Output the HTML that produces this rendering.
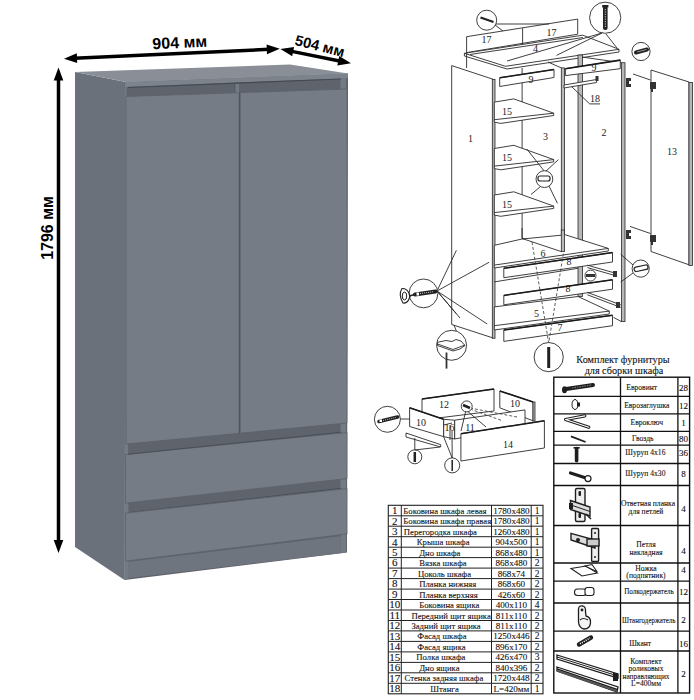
<!DOCTYPE html>
<html><head><meta charset="utf-8"><style>
html,body{margin:0;padding:0;background:#fff;width:694px;height:700px;overflow:hidden}
svg{position:absolute;left:0;top:0;display:block}
</style></head><body>
<svg width="694" height="700" viewBox="0 0 694 700">
<polygon points="75.0,72.0 126.0,82.0 124.5,580.0 75.0,547.0" fill="#6b717b" />
<polygon points="75.0,72.0 290.0,64.5 348.0,73.5 126.0,82.0" fill="#8a8e96" />
<polygon points="124.5,82.0 348.0,73.5 347.0,552.5 124.5,580.0" fill="#5e636c" />
<polygon points="124.5,87.0 126.5,87.0 128.8,578.0 124.5,580.0" fill="#737a84" />
<polygon points="125.0,82.0 348.0,73.5 348.0,78.2 125.0,87.0" fill="#7d838c" />
<polygon points="340.5,78.0 346.0,78.0 346.0,552.5 340.5,553.0" fill="#737a84" />
<polygon points="234.4,84.0 239.0,84.0 239.0,93.0 234.4,93.0" fill="#737a84" />
<polygon points="234.4,84.0 235.4,84.0 235.4,93.0 234.4,93.0" fill="#4e535c" />
<polygon points="126.0,96.5 239.1,92.7 239.1,433.3 126.0,444.0" fill="#757c86" stroke="#5c626b" stroke-width="0.8"/>
<polygon points="240.1,92.6 347.0,89.0 347.0,423.0 240.1,433.2" fill="#757c86" stroke="#5c626b" stroke-width="0.8"/>
<polygon points="239.1,92.7 240.1,92.6 240.1,433.2 239.1,433.3" fill="#4f545d" />
<polygon points="125.5,454.5 347.0,432.5 347.0,478.6 125.5,503.1" fill="#757c86" stroke="#5c626b" stroke-width="0.8"/>
<line x1="128" y1="454.2" x2="341" y2="432.2" stroke="#4a4f57" stroke-width="1"/>
<line x1="128" y1="512.7" x2="341" y2="488.3" stroke="#4a4f57" stroke-width="1"/>
<line x1="128" y1="87.5" x2="341" y2="79" stroke="#454a52" stroke-width="1.2"/>
<polygon points="125.5,513.1 347.0,488.6 347.0,534.0 125.5,561.1" fill="#757c86" stroke="#5c626b" stroke-width="0.8"/>
<polygon points="128.8,561.7 340.5,536.3 340.5,553.2 128.8,578.0" fill="#6f757f" />
<line x1="58.5" y1="77.8" x2="58.5" y2="542.6" stroke="#000" stroke-width="3.5"/><polygon points="58.5,67.4 63.3,80.4 53.7,80.4" fill="#000" /><polygon points="58.5,553.0 53.7,540.0 63.3,540.0" fill="#000" />
<line x1="74.4" y1="58.2" x2="269.4" y2="49.3" stroke="#000" stroke-width="3.5"/><polygon points="64.0,58.7 76.8,53.3 77.2,62.9" fill="#000" /><polygon points="279.8,48.8 267.0,54.2 266.6,44.6" fill="#000" />
<line x1="290.6" y1="51.1" x2="340.8" y2="61.2" stroke="#000" stroke-width="3.5"/><polygon points="280.4,49.0 294.1,46.9 292.2,56.3" fill="#000" /><polygon points="351.0,63.3 337.3,65.4 339.2,56.0" fill="#000" />
<text x="180" y="48" font-size="16" text-anchor="middle" transform="rotate(-2.6 180 48)" font-family="Liberation Sans, sans-serif" font-weight="bold" fill="#000">904 мм</text>
<text x="318.5" y="51" font-size="14.8" text-anchor="middle" transform="rotate(14.5 318.5 51)" font-family="Liberation Sans, sans-serif" font-weight="bold" fill="#000">504 мм</text>
<text x="53" y="228" font-size="16" text-anchor="middle" transform="rotate(-90 53 228)" font-family="Liberation Sans, sans-serif" font-weight="bold" fill="#000">1796 мм</text>
<rect x="388.3" y="505.3" width="154.7" height="188.5" fill="none" stroke="#222" stroke-width="1.1"/>
<line x1="401.3" y1="505.3" x2="401.3" y2="693.8" stroke="#222" stroke-width="1.0"/>
<line x1="491.5" y1="505.3" x2="491.5" y2="693.8" stroke="#222" stroke-width="1.0"/>
<line x1="531.2" y1="505.3" x2="531.2" y2="693.8" stroke="#222" stroke-width="1.0"/>
<line x1="388.3" y1="515.8" x2="543.0" y2="515.8" stroke="#222" stroke-width="1.0"/>
<line x1="388.3" y1="526.2" x2="543.0" y2="526.2" stroke="#222" stroke-width="1.0"/>
<line x1="388.3" y1="536.7" x2="543.0" y2="536.7" stroke="#222" stroke-width="1.0"/>
<line x1="388.3" y1="547.2" x2="543.0" y2="547.2" stroke="#222" stroke-width="1.0"/>
<line x1="388.3" y1="557.6" x2="543.0" y2="557.6" stroke="#222" stroke-width="1.0"/>
<line x1="388.3" y1="568.1" x2="543.0" y2="568.1" stroke="#222" stroke-width="1.0"/>
<line x1="388.3" y1="578.6" x2="543.0" y2="578.6" stroke="#222" stroke-width="1.0"/>
<line x1="388.3" y1="589.1" x2="543.0" y2="589.1" stroke="#222" stroke-width="1.0"/>
<line x1="388.3" y1="599.5" x2="543.0" y2="599.5" stroke="#222" stroke-width="1.0"/>
<line x1="388.3" y1="610.0" x2="543.0" y2="610.0" stroke="#222" stroke-width="1.0"/>
<line x1="388.3" y1="620.5" x2="543.0" y2="620.5" stroke="#222" stroke-width="1.0"/>
<line x1="388.3" y1="630.9" x2="543.0" y2="630.9" stroke="#222" stroke-width="1.0"/>
<line x1="388.3" y1="641.4" x2="543.0" y2="641.4" stroke="#222" stroke-width="1.0"/>
<line x1="388.3" y1="651.9" x2="543.0" y2="651.9" stroke="#222" stroke-width="1.0"/>
<line x1="388.3" y1="662.4" x2="543.0" y2="662.4" stroke="#222" stroke-width="1.0"/>
<line x1="388.3" y1="672.8" x2="543.0" y2="672.8" stroke="#222" stroke-width="1.0"/>
<line x1="388.3" y1="683.3" x2="543.0" y2="683.3" stroke="#222" stroke-width="1.0"/>
<text x="394.8" y="514.1" font-size="11" text-anchor="middle" font-family="Liberation Serif, serif" fill="#111" stroke="#111" stroke-width="0.1">1</text>
<text x="403.3" y="513.8" font-size="8.7" font-family="Liberation Serif, serif" fill="#111" stroke="#111" stroke-width="0.1">Боковина шкафа левая</text>
<text x="511.4" y="513.8" font-size="9.1" text-anchor="middle" font-family="Liberation Serif, serif" fill="#111" stroke="#111" stroke-width="0.1">1780x480</text>
<text x="537.1" y="513.8" font-size="9.5" text-anchor="middle" font-family="Liberation Serif, serif" fill="#111" stroke="#111" stroke-width="0.1">1</text>
<text x="394.8" y="524.6" font-size="11" text-anchor="middle" font-family="Liberation Serif, serif" fill="#111" stroke="#111" stroke-width="0.1">2</text>
<text x="403.3" y="524.3" font-size="8.7" font-family="Liberation Serif, serif" fill="#111" stroke="#111" stroke-width="0.1">Боковина шкафа правая</text>
<text x="511.4" y="524.3" font-size="9.1" text-anchor="middle" font-family="Liberation Serif, serif" fill="#111" stroke="#111" stroke-width="0.1">1780x480</text>
<text x="537.1" y="524.3" font-size="9.5" text-anchor="middle" font-family="Liberation Serif, serif" fill="#111" stroke="#111" stroke-width="0.1">1</text>
<text x="394.8" y="535.0" font-size="11" text-anchor="middle" font-family="Liberation Serif, serif" fill="#111" stroke="#111" stroke-width="0.1">3</text>
<text x="403.8" y="534.7" font-size="8.7" font-family="Liberation Serif, serif" fill="#111" stroke="#111" stroke-width="0.1">Перегородка шкафа</text>
<text x="511.4" y="534.7" font-size="9.1" text-anchor="middle" font-family="Liberation Serif, serif" fill="#111" stroke="#111" stroke-width="0.1">1260x480</text>
<text x="537.1" y="534.7" font-size="9.5" text-anchor="middle" font-family="Liberation Serif, serif" fill="#111" stroke="#111" stroke-width="0.1">1</text>
<text x="394.8" y="545.5" font-size="11" text-anchor="middle" font-family="Liberation Serif, serif" fill="#111" stroke="#111" stroke-width="0.1">4</text>
<text x="416.8" y="545.2" font-size="8.7" font-family="Liberation Serif, serif" fill="#111" stroke="#111" stroke-width="0.1">Крыша шкафа</text>
<text x="511.4" y="545.2" font-size="9.1" text-anchor="middle" font-family="Liberation Serif, serif" fill="#111" stroke="#111" stroke-width="0.1">904x500</text>
<text x="537.1" y="545.2" font-size="9.5" text-anchor="middle" font-family="Liberation Serif, serif" fill="#111" stroke="#111" stroke-width="0.1">1</text>
<text x="394.8" y="556.0" font-size="11" text-anchor="middle" font-family="Liberation Serif, serif" fill="#111" stroke="#111" stroke-width="0.1">5</text>
<text x="419.2" y="555.7" font-size="8.7" font-family="Liberation Serif, serif" fill="#111" stroke="#111" stroke-width="0.1">Дно шкафа</text>
<text x="511.4" y="555.7" font-size="9.1" text-anchor="middle" font-family="Liberation Serif, serif" fill="#111" stroke="#111" stroke-width="0.1">868x480</text>
<text x="537.1" y="555.7" font-size="9.5" text-anchor="middle" font-family="Liberation Serif, serif" fill="#111" stroke="#111" stroke-width="0.1">1</text>
<text x="394.8" y="566.4" font-size="11" text-anchor="middle" font-family="Liberation Serif, serif" fill="#111" stroke="#111" stroke-width="0.1">6</text>
<text x="419.2" y="566.1" font-size="8.7" font-family="Liberation Serif, serif" fill="#111" stroke="#111" stroke-width="0.1">Вязка шкафа</text>
<text x="511.4" y="566.1" font-size="9.1" text-anchor="middle" font-family="Liberation Serif, serif" fill="#111" stroke="#111" stroke-width="0.1">868x480</text>
<text x="537.1" y="566.1" font-size="9.5" text-anchor="middle" font-family="Liberation Serif, serif" fill="#111" stroke="#111" stroke-width="0.1">2</text>
<text x="394.8" y="576.9" font-size="11" text-anchor="middle" font-family="Liberation Serif, serif" fill="#111" stroke="#111" stroke-width="0.1">7</text>
<text x="418.0" y="576.6" font-size="8.7" font-family="Liberation Serif, serif" fill="#111" stroke="#111" stroke-width="0.1">Цоколь шкафа</text>
<text x="511.4" y="576.6" font-size="9.1" text-anchor="middle" font-family="Liberation Serif, serif" fill="#111" stroke="#111" stroke-width="0.1">868x74</text>
<text x="537.1" y="576.6" font-size="9.5" text-anchor="middle" font-family="Liberation Serif, serif" fill="#111" stroke="#111" stroke-width="0.1">2</text>
<text x="394.8" y="587.4" font-size="11" text-anchor="middle" font-family="Liberation Serif, serif" fill="#111" stroke="#111" stroke-width="0.1">8</text>
<text x="419.2" y="587.1" font-size="8.7" font-family="Liberation Serif, serif" fill="#111" stroke="#111" stroke-width="0.1">Планка нижняя</text>
<text x="511.4" y="587.1" font-size="9.1" text-anchor="middle" font-family="Liberation Serif, serif" fill="#111" stroke="#111" stroke-width="0.1">868x60</text>
<text x="537.1" y="587.1" font-size="9.5" text-anchor="middle" font-family="Liberation Serif, serif" fill="#111" stroke="#111" stroke-width="0.1">2</text>
<text x="394.8" y="597.9" font-size="11" text-anchor="middle" font-family="Liberation Serif, serif" fill="#111" stroke="#111" stroke-width="0.1">9</text>
<text x="419.2" y="597.6" font-size="8.7" font-family="Liberation Serif, serif" fill="#111" stroke="#111" stroke-width="0.1">Планка верхняя</text>
<text x="511.4" y="597.6" font-size="9.1" text-anchor="middle" font-family="Liberation Serif, serif" fill="#111" stroke="#111" stroke-width="0.1">426x60</text>
<text x="537.1" y="597.6" font-size="9.5" text-anchor="middle" font-family="Liberation Serif, serif" fill="#111" stroke="#111" stroke-width="0.1">2</text>
<text x="394.8" y="608.3" font-size="11" text-anchor="middle" font-family="Liberation Serif, serif" fill="#111" stroke="#111" stroke-width="0.1">10</text>
<text x="419.2" y="608.0" font-size="8.7" font-family="Liberation Serif, serif" fill="#111" stroke="#111" stroke-width="0.1">Боковина ящика</text>
<text x="511.4" y="608.0" font-size="9.1" text-anchor="middle" font-family="Liberation Serif, serif" fill="#111" stroke="#111" stroke-width="0.1">400x110</text>
<text x="537.1" y="608.0" font-size="9.5" text-anchor="middle" font-family="Liberation Serif, serif" fill="#111" stroke="#111" stroke-width="0.1">4</text>
<text x="394.8" y="618.8" font-size="11" text-anchor="middle" font-family="Liberation Serif, serif" fill="#111" stroke="#111" stroke-width="0.1">11</text>
<text x="411.4" y="618.5" font-size="8.7" font-family="Liberation Serif, serif" fill="#111" stroke="#111" stroke-width="0.1">Передний щит ящика</text>
<text x="511.4" y="618.5" font-size="9.1" text-anchor="middle" font-family="Liberation Serif, serif" fill="#111" stroke="#111" stroke-width="0.1">811x110</text>
<text x="537.1" y="618.5" font-size="9.5" text-anchor="middle" font-family="Liberation Serif, serif" fill="#111" stroke="#111" stroke-width="0.1">2</text>
<text x="394.8" y="629.3" font-size="11" text-anchor="middle" font-family="Liberation Serif, serif" fill="#111" stroke="#111" stroke-width="0.1">12</text>
<text x="411.4" y="629.0" font-size="8.7" font-family="Liberation Serif, serif" fill="#111" stroke="#111" stroke-width="0.1">Задний щит ящика</text>
<text x="511.4" y="629.0" font-size="9.1" text-anchor="middle" font-family="Liberation Serif, serif" fill="#111" stroke="#111" stroke-width="0.1">811x110</text>
<text x="537.1" y="629.0" font-size="9.5" text-anchor="middle" font-family="Liberation Serif, serif" fill="#111" stroke="#111" stroke-width="0.1">2</text>
<text x="394.8" y="639.7" font-size="11" text-anchor="middle" font-family="Liberation Serif, serif" fill="#111" stroke="#111" stroke-width="0.1">13</text>
<text x="417.3" y="639.4" font-size="8.7" font-family="Liberation Serif, serif" fill="#111" stroke="#111" stroke-width="0.1">Фасад шкафа</text>
<text x="511.4" y="639.4" font-size="9.1" text-anchor="middle" font-family="Liberation Serif, serif" fill="#111" stroke="#111" stroke-width="0.1">1250x446</text>
<text x="537.1" y="639.4" font-size="9.5" text-anchor="middle" font-family="Liberation Serif, serif" fill="#111" stroke="#111" stroke-width="0.1">2</text>
<text x="394.8" y="650.2" font-size="11" text-anchor="middle" font-family="Liberation Serif, serif" fill="#111" stroke="#111" stroke-width="0.1">14</text>
<text x="417.3" y="649.9" font-size="8.7" font-family="Liberation Serif, serif" fill="#111" stroke="#111" stroke-width="0.1">Фасад ящика</text>
<text x="511.4" y="649.9" font-size="9.1" text-anchor="middle" font-family="Liberation Serif, serif" fill="#111" stroke="#111" stroke-width="0.1">896x170</text>
<text x="537.1" y="649.9" font-size="9.5" text-anchor="middle" font-family="Liberation Serif, serif" fill="#111" stroke="#111" stroke-width="0.1">2</text>
<text x="394.8" y="660.7" font-size="11" text-anchor="middle" font-family="Liberation Serif, serif" fill="#111" stroke="#111" stroke-width="0.1">15</text>
<text x="416.3" y="660.4" font-size="8.7" font-family="Liberation Serif, serif" fill="#111" stroke="#111" stroke-width="0.1">Полка шкафа</text>
<text x="511.4" y="660.4" font-size="9.1" text-anchor="middle" font-family="Liberation Serif, serif" fill="#111" stroke="#111" stroke-width="0.1">426x470</text>
<text x="537.1" y="660.4" font-size="9.5" text-anchor="middle" font-family="Liberation Serif, serif" fill="#111" stroke="#111" stroke-width="0.1">3</text>
<text x="394.8" y="671.1" font-size="11" text-anchor="middle" font-family="Liberation Serif, serif" fill="#111" stroke="#111" stroke-width="0.1">16</text>
<text x="419.2" y="670.9" font-size="8.7" font-family="Liberation Serif, serif" fill="#111" stroke="#111" stroke-width="0.1">Дно ящика</text>
<text x="511.4" y="670.9" font-size="9.1" text-anchor="middle" font-family="Liberation Serif, serif" fill="#111" stroke="#111" stroke-width="0.1">840x396</text>
<text x="537.1" y="670.9" font-size="9.5" text-anchor="middle" font-family="Liberation Serif, serif" fill="#111" stroke="#111" stroke-width="0.1">2</text>
<text x="394.8" y="681.6" font-size="11" text-anchor="middle" font-family="Liberation Serif, serif" fill="#111" stroke="#111" stroke-width="0.1">17</text>
<text x="404.5" y="681.3" font-size="8.7" font-family="Liberation Serif, serif" fill="#111" stroke="#111" stroke-width="0.1">Стенка задняя шкафа</text>
<text x="511.4" y="681.3" font-size="9.1" text-anchor="middle" font-family="Liberation Serif, serif" fill="#111" stroke="#111" stroke-width="0.1">1720x448</text>
<text x="537.1" y="681.3" font-size="9.5" text-anchor="middle" font-family="Liberation Serif, serif" fill="#111" stroke="#111" stroke-width="0.1">2</text>
<text x="394.8" y="692.1" font-size="11" text-anchor="middle" font-family="Liberation Serif, serif" fill="#111" stroke="#111" stroke-width="0.1">18</text>
<text x="430.2" y="691.8" font-size="8.7" font-family="Liberation Serif, serif" fill="#111" stroke="#111" stroke-width="0.1">Штанга</text>
<text x="511.4" y="691.8" font-size="9.1" text-anchor="middle" font-family="Liberation Serif, serif" fill="#111" stroke="#111" stroke-width="0.1">L=420мм</text>
<text x="537.1" y="691.8" font-size="9.5" text-anchor="middle" font-family="Liberation Serif, serif" fill="#111" stroke="#111" stroke-width="0.1">1</text>
<rect x="553.8" y="377.2" width="135.8" height="315.8" fill="none" stroke="#111" stroke-width="1.4"/>
<line x1="620.5" y1="377.2" x2="620.5" y2="693.0" stroke="#111" stroke-width="1.3"/>
<line x1="677.9" y1="377.2" x2="677.9" y2="693.0" stroke="#111" stroke-width="1.3"/>
<line x1="553.8" y1="396.3" x2="689.6" y2="396.3" stroke="#111" stroke-width="1.3"/>
<line x1="553.8" y1="413.8" x2="689.6" y2="413.8" stroke="#111" stroke-width="1.3"/>
<line x1="553.8" y1="431.4" x2="689.6" y2="431.4" stroke="#111" stroke-width="1.3"/>
<line x1="553.8" y1="445.2" x2="689.6" y2="445.2" stroke="#111" stroke-width="1.3"/>
<line x1="553.8" y1="463.5" x2="689.6" y2="463.5" stroke="#111" stroke-width="1.3"/>
<line x1="553.8" y1="485.5" x2="689.6" y2="485.5" stroke="#111" stroke-width="1.3"/>
<line x1="553.8" y1="525.5" x2="689.6" y2="525.5" stroke="#111" stroke-width="1.3"/>
<line x1="553.8" y1="563.0" x2="689.6" y2="563.0" stroke="#111" stroke-width="1.3"/>
<line x1="553.8" y1="581.2" x2="689.6" y2="581.2" stroke="#111" stroke-width="1.3"/>
<line x1="553.8" y1="603.0" x2="689.6" y2="603.0" stroke="#111" stroke-width="1.3"/>
<line x1="553.8" y1="631.2" x2="689.6" y2="631.2" stroke="#111" stroke-width="1.3"/>
<line x1="553.8" y1="651.0" x2="689.6" y2="651.0" stroke="#111" stroke-width="1.3"/>
<text x="641.7" y="389.9" font-size="7.6" text-anchor="middle" font-family="Liberation Serif, serif" fill="#111" stroke="#111" stroke-width="0.1">Евровинт</text>
<text x="683.5" y="390.6" font-size="9" text-anchor="middle" font-family="Liberation Serif, serif" fill="#111" stroke="#111" stroke-width="0.1">28</text>
<text x="646.8" y="407.8" font-size="7.6" text-anchor="middle" font-family="Liberation Serif, serif" fill="#111" stroke="#111" stroke-width="0.1">Еврозаглушка</text>
<text x="683.5" y="408.5" font-size="9" text-anchor="middle" font-family="Liberation Serif, serif" fill="#111" stroke="#111" stroke-width="0.1">12</text>
<text x="646.8" y="424.9" font-size="7.6" text-anchor="middle" font-family="Liberation Serif, serif" fill="#111" stroke="#111" stroke-width="0.1">Евроключ</text>
<text x="683.5" y="425.6" font-size="9" text-anchor="middle" font-family="Liberation Serif, serif" fill="#111" stroke="#111" stroke-width="0.1">1</text>
<text x="642.7" y="441.2" font-size="7.6" text-anchor="middle" font-family="Liberation Serif, serif" fill="#111" stroke="#111" stroke-width="0.1">Гвоздь</text>
<text x="683.5" y="441.9" font-size="9" text-anchor="middle" font-family="Liberation Serif, serif" fill="#111" stroke="#111" stroke-width="0.1">80</text>
<text x="645.4" y="455.0" font-size="7.6" text-anchor="middle" font-family="Liberation Serif, serif" fill="#111" stroke="#111" stroke-width="0.1">Шуруп 4x16</text>
<text x="683.5" y="455.7" font-size="9" text-anchor="middle" font-family="Liberation Serif, serif" fill="#111" stroke="#111" stroke-width="0.1">36</text>
<text x="645.4" y="476.2" font-size="7.6" text-anchor="middle" font-family="Liberation Serif, serif" fill="#111" stroke="#111" stroke-width="0.1">Шуруп 4x30</text>
<text x="683.5" y="476.9" font-size="9" text-anchor="middle" font-family="Liberation Serif, serif" fill="#111" stroke="#111" stroke-width="0.1">8</text>
<text x="648.0" y="506.1" font-size="7.6" text-anchor="middle" textLength="54.0" lengthAdjust="spacingAndGlyphs" font-family="Liberation Serif, serif" fill="#111" stroke="#111" stroke-width="0.1">Ответная планка</text>
<text x="646.0" y="513.9" font-size="7.6" text-anchor="middle" font-family="Liberation Serif, serif" fill="#111" stroke="#111" stroke-width="0.1">для петлей</text>
<text x="683.5" y="511.5" font-size="9" text-anchor="middle" font-family="Liberation Serif, serif" fill="#111" stroke="#111" stroke-width="0.1">4</text>
<text x="646.0" y="547.0" font-size="7.6" text-anchor="middle" font-family="Liberation Serif, serif" fill="#111" stroke="#111" stroke-width="0.1">Петля</text>
<text x="646.0" y="554.8" font-size="7.6" text-anchor="middle" font-family="Liberation Serif, serif" fill="#111" stroke="#111" stroke-width="0.1">накладная</text>
<text x="683.5" y="554.0" font-size="9" text-anchor="middle" font-family="Liberation Serif, serif" fill="#111" stroke="#111" stroke-width="0.1">4</text>
<text x="646.0" y="570.5" font-size="7.6" text-anchor="middle" font-family="Liberation Serif, serif" fill="#111" stroke="#111" stroke-width="0.1">Ножка</text>
<text x="646.0" y="577.5" font-size="7.6" text-anchor="middle" font-family="Liberation Serif, serif" fill="#111" stroke="#111" stroke-width="0.1">(подпятник)</text>
<text x="683.5" y="573.2" font-size="9" text-anchor="middle" font-family="Liberation Serif, serif" fill="#111" stroke="#111" stroke-width="0.1">4</text>
<text x="649.0" y="594.1" font-size="7.6" text-anchor="middle" textLength="49.7" lengthAdjust="spacingAndGlyphs" font-family="Liberation Serif, serif" fill="#111" stroke="#111" stroke-width="0.1">Полкодержатель</text>
<text x="683.5" y="594.8" font-size="9" text-anchor="middle" font-family="Liberation Serif, serif" fill="#111" stroke="#111" stroke-width="0.1">12</text>
<text x="648.7" y="622.5" font-size="7.6" text-anchor="middle" textLength="53.4" lengthAdjust="spacingAndGlyphs" font-family="Liberation Serif, serif" fill="#111" stroke="#111" stroke-width="0.1">Штангодержатель</text>
<text x="683.5" y="623.2" font-size="9" text-anchor="middle" font-family="Liberation Serif, serif" fill="#111" stroke="#111" stroke-width="0.1">2</text>
<text x="640.2" y="646.0" font-size="7.6" text-anchor="middle" font-family="Liberation Serif, serif" fill="#111" stroke="#111" stroke-width="0.1">Шкант</text>
<text x="683.5" y="646.7" font-size="9" text-anchor="middle" font-family="Liberation Serif, serif" fill="#111" stroke="#111" stroke-width="0.1">16</text>
<text x="646.0" y="664.3" font-size="7.6" text-anchor="middle" font-family="Liberation Serif, serif" fill="#111" stroke="#111" stroke-width="0.1">Комплект</text>
<text x="646.0" y="671.2" font-size="7.6" text-anchor="middle" font-family="Liberation Serif, serif" fill="#111" stroke="#111" stroke-width="0.1">роликовых</text>
<text x="646.0" y="679.0" font-size="7.6" text-anchor="middle" textLength="47.0" lengthAdjust="spacingAndGlyphs" font-family="Liberation Serif, serif" fill="#111" stroke="#111" stroke-width="0.1">направляющих</text>
<text x="646.0" y="686.3" font-size="7.6" text-anchor="middle" font-family="Liberation Serif, serif" fill="#111" stroke="#111" stroke-width="0.1">L=400мм</text>
<text x="683.5" y="676.6" font-size="9" text-anchor="middle" font-family="Liberation Serif, serif" fill="#111" stroke="#111" stroke-width="0.1">2</text>
<text x="623" y="363" font-size="10.2" text-anchor="middle" font-family="Liberation Serif, serif" fill="#111" stroke="#111" stroke-width="0.1">Комплект фурнитуры</text>
<text x="624" y="374" font-size="10.2" text-anchor="middle" font-family="Liberation Serif, serif" fill="#111" stroke="#111" stroke-width="0.1">для сборки шкафа</text>
<line x1="566" y1="389" x2="593" y2="385" stroke="#1e1e1e" stroke-width="4" stroke-linecap="round"/>
<line x1="572" y1="388" x2="592" y2="385" stroke="#777" stroke-width="1.2" stroke-dasharray="1.5,1"/>
<ellipse cx="564.5" cy="389.8" rx="2.5" ry="3.5" fill="#1e1e1e"/>
<ellipse cx="575" cy="404.5" rx="3" ry="5" fill="#fff" stroke="#1e1e1e" stroke-width="1"/>
<rect x="577" y="402.5" width="3" height="4" fill="#1e1e1e"/>
<polyline points="584.8,415.9 565.5,419.5 588.8,427.3" fill="none" stroke="#1e1e1e" stroke-width="3.2" stroke-linejoin="round" stroke-linecap="round"/>
<polyline points="584.8,415.9 565.5,419.5 588.8,427.3" fill="none" stroke="#fff" stroke-width="1.2" stroke-linejoin="round" stroke-linecap="round"/>
<line x1="571" y1="436.3" x2="585.6" y2="442" stroke="#1e1e1e" stroke-width="1.8"/>
<line x1="576.6" y1="448.5" x2="576.6" y2="460.7" stroke="#1e1e1e" stroke-width="3.6" stroke-linecap="round"/>
<line x1="573.5" y1="447.8" x2="579.7" y2="447.8" stroke="#1e1e1e" stroke-width="1.6"/>
<line x1="570.5" y1="473" x2="586" y2="478" stroke="#1e1e1e" stroke-width="3.2" stroke-linecap="round"/>
<circle cx="588" cy="478.6" r="3" fill="#fff" stroke="#1e1e1e" stroke-width="1.2"/>
<rect x="575.5" y="488.5" width="9.5" height="33" rx="1.5" fill="#eee" stroke="#1e1e1e" stroke-width="1.4"/>
<polygon points="570.5,500.5 590,507 590,516 570.5,509.5" fill="#ddd" stroke="#1e1e1e" stroke-width="1.4"/><line x1="571" y1="505" x2="590" y2="511.5" stroke="#1e1e1e" stroke-width="1"/><rect x="569" y="503" width="4" height="6" fill="#1e1e1e"/><line x1="586" y1="514" x2="591" y2="519" stroke="#1e1e1e" stroke-width="1.5"/>
<rect x="578.5" y="491" width="2.5" height="5" rx="1" fill="#1e1e1e"/><rect x="578.5" y="513" width="2.5" height="5" rx="1" fill="#1e1e1e"/>
<rect x="570" y="504" width="3" height="4" fill="#1e1e1e"/>
<rect x="591.6" y="528.5" width="7" height="33" rx="1" fill="#eee" stroke="#1e1e1e" stroke-width="1.4"/><circle cx="595" cy="533" r="1" fill="#1e1e1e"/><circle cx="595" cy="557" r="1" fill="#1e1e1e"/>
<polygon points="571,533.4 595,540 595,548 571,540" fill="#ddd" stroke="#1e1e1e" stroke-width="1.4"/>
<rect x="587" y="539" width="12" height="7" fill="#ccc" stroke="#1e1e1e" stroke-width="1.4"/>
<circle cx="578" cy="540" r="2" fill="#1e1e1e"/>
<polygon points="571,568.5 586,566 597.3,573 582,576" fill="#fff" stroke="#1e1e1e" stroke-width="1.1"/>
<polygon points="585,566 592,564.5 597.3,572" fill="#fff" stroke="#1e1e1e" stroke-width="1.1"/>
<rect x="574.5" y="589" width="12" height="6.5" rx="3" fill="#fff" stroke="#1e1e1e" stroke-width="1.1"/>
<rect x="585" y="587.5" width="9" height="8" rx="2.5" fill="#fff" stroke="#1e1e1e" stroke-width="1.1"/>
<path d="M578.5,609 Q579,605 583,606 Q586,607 585.5,612 L586,616 Q591,617 590.5,623 Q590,629 584,629 Q579,628 578.5,622 Z" fill="#f4f4f4" stroke="#1e1e1e" stroke-width="1.3"/>
<path d="M580,620 Q583,617 588,620" fill="none" stroke="#1e1e1e" stroke-width="1.1"/>
<circle cx="582" cy="610" r="1.4" fill="#1e1e1e"/>
<line x1="579" y1="644.5" x2="591" y2="637.5" stroke="#1e1e1e" stroke-width="4.4" stroke-linecap="round"/>
<line x1="580" y1="643.8" x2="590" y2="638" stroke="#fff" stroke-width="1.6" stroke-dasharray="1,1.2"/>
<polygon points="557,655 618,674 618,678 557,659" fill="#fff" stroke="#1e1e1e" stroke-width="1.3"/>
<polygon points="557,667 618,687 617,692 557,671" fill="#fff" stroke="#1e1e1e" stroke-width="1.3"/>
<line x1="557" y1="669" x2="617" y2="689.5" stroke="#1e1e1e" stroke-width="1.5"/>
<rect x="613" y="673" width="5" height="8" fill="#1e1e1e"/><line x1="557" y1="657" x2="618" y2="676" stroke="#1e1e1e" stroke-width="1"/><line x1="557" y1="670.5" x2="617" y2="691" stroke="#555" stroke-width="2"/>
<polygon points="466.6,36.7 577.7,19.1 577.7,34.2 466.6,52.6" stroke="#2a2a2a" stroke-width="0.9" fill="none" stroke-linejoin="round"/>
<polyline points="522.6,28.2 522.6,44.7" stroke="#2a2a2a" stroke-width="0.9" fill="none" stroke-linejoin="round"/>
<text x="486.5" y="43.0" font-size="10.0" text-anchor="middle" font-family="Liberation Serif, serif" fill="#222">17</text>
<text x="551.5" y="35.5" font-size="10.0" text-anchor="middle" font-family="Liberation Serif, serif" fill="#222">17</text>
<polygon points="464.4,53.3 582.7,35.2 619.0,49.3 505.5,66.3" stroke="#2a2a2a" stroke-width="0.9" fill="#fff" stroke-linejoin="round"/>
<polyline points="464.4,53.3 464.4,56.0 507.0,69.0 619.0,52.0 619.0,49.3" stroke="#2a2a2a" stroke-width="0.9" fill="none" stroke-linejoin="round"/>
<polyline points="470.0,54.5 583.0,37.5" stroke="#2a2a2a" stroke-width="0.9" fill="none" stroke-linejoin="round"/>
<text x="535.5" y="52.0" font-size="10.0" text-anchor="middle" font-family="Liberation Serif, serif" fill="#222">4</text>
<polyline points="602.0,33.0 556.5,55.4" stroke="#2a2a2a" stroke-width="0.9" fill="none" stroke-linejoin="round"/>
<polyline points="602.0,33.0 507.0,61.0" stroke="#2a2a2a" stroke-width="0.9" fill="none" stroke-linejoin="round"/>
<polyline points="606.0,34.0 617.0,48.0" stroke="#2a2a2a" stroke-width="0.9" fill="none" stroke-linejoin="round"/>
<polyline points="466.6,52.6 466.6,68.0" stroke="#2a2a2a" stroke-width="0.9" fill="none" stroke-linejoin="round"/>
<polygon points="451.7,65.6 493.2,79.3 493.2,338.0 451.7,324.5" stroke="#2a2a2a" stroke-width="0.9" fill="#fff" stroke-linejoin="round"/>
<rect x="492.3" y="79.5" width="2.7" height="258.8" fill="#b8b8b8" stroke="#2a2a2a" stroke-width="0.8"/>
<text x="470.5" y="141.5" font-size="10.0" text-anchor="middle" font-family="Liberation Serif, serif" fill="#222">1</text>
<polyline points="522.1,68.0 522.1,238.0" stroke="#2a2a2a" stroke-width="0.9" fill="none" stroke-linejoin="round"/>
<polyline points="548.0,62.0 561.3,67.9" stroke="#2a2a2a" stroke-width="0.9" fill="none" stroke-linejoin="round"/>
<rect x="561.3" y="67.9" width="3.1" height="183.7" fill="#b8b8b8" stroke="#2a2a2a" stroke-width="0.8"/>
<text x="545.5" y="139.5" font-size="10.0" text-anchor="middle" font-family="Liberation Serif, serif" fill="#222">3</text>
<rect x="578.0" y="55.0" width="4.5" height="241.5" fill="#b8b8b8" stroke="#2a2a2a" stroke-width="0.8"/>
<polyline points="582.0,57.0 621.4,62.7" stroke="#2a2a2a" stroke-width="0.9" fill="none" stroke-linejoin="round"/>
<rect x="621.4" y="62.7" width="3.6" height="258.9" fill="#b8b8b8" stroke="#2a2a2a" stroke-width="0.8"/>
<polyline points="613.5,317.4 621.4,321.6" stroke="#2a2a2a" stroke-width="0.9" fill="none" stroke-linejoin="round"/>
<text x="604.0" y="135.5" font-size="10.0" text-anchor="middle" font-family="Liberation Serif, serif" fill="#222">2</text>
<polygon points="499.7,77.8 554.0,69.5 554.0,77.5 499.7,86.5" stroke="#2a2a2a" stroke-width="0.9" fill="#fff" stroke-linejoin="round"/>
<text x="531.0" y="83.0" font-size="10.0" text-anchor="middle" font-family="Liberation Serif, serif" fill="#222">9</text>
<polyline points="499.7,77.8 554.0,69.5" stroke="#1a1a1a" stroke-width="1.6" fill="none"/>
<polygon points="565.4,68.7 620.3,60.1 620.3,68.7 565.4,75.6" stroke="#2a2a2a" stroke-width="0.9" fill="#fff" stroke-linejoin="round"/>
<text x="594.0" y="71.0" font-size="10.0" text-anchor="middle" font-family="Liberation Serif, serif" fill="#222">9</text>
<polyline points="565.4,68.7 620.3,60.1" stroke="#1a1a1a" stroke-width="1.6" fill="none"/>
<polygon points="564.0,85.0 596.6,79.5 596.6,82.5 564.0,88.0" stroke="#2a2a2a" stroke-width="0.9" fill="#fff" stroke-linejoin="round"/>
<polyline points="571.7,86.7 589.7,103.9 600.0,103.9" stroke="#2a2a2a" stroke-width="0.9" fill="none" stroke-linejoin="round"/>
<text x="595.0" y="102.0" font-size="10.0" text-anchor="middle" font-family="Liberation Serif, serif" fill="#222">18</text>
<rect x="595.5" y="76" width="3" height="5" fill="#333"/>
<polygon points="494.3,102.1 513.8,98.9 553.7,113.2 553.7,115.5 500.8,123.4 494.3,122.2" stroke="#2a2a2a" stroke-width="0.9" fill="#fff" stroke-linejoin="round"/>
<polyline points="494.3,119.7 553.7,113.2" stroke="#2a2a2a" stroke-width="0.9" fill="none" stroke-linejoin="round"/>
<text x="507.0" y="115.0" font-size="10.0" text-anchor="middle" font-family="Liberation Serif, serif" fill="#222">15</text>
<polygon points="494.3,148.5 513.8,145.3 553.7,159.6 553.7,161.9 500.8,169.8 494.3,168.6" stroke="#2a2a2a" stroke-width="0.9" fill="#fff" stroke-linejoin="round"/>
<polyline points="494.3,166.1 553.7,159.6" stroke="#2a2a2a" stroke-width="0.9" fill="none" stroke-linejoin="round"/>
<text x="507.0" y="161.4" font-size="10.0" text-anchor="middle" font-family="Liberation Serif, serif" fill="#222">15</text>
<polygon points="494.3,195.0 513.8,191.8 553.7,206.1 553.7,208.4 500.8,216.3 494.3,215.1" stroke="#2a2a2a" stroke-width="0.9" fill="#fff" stroke-linejoin="round"/>
<polyline points="494.3,212.6 553.7,206.1" stroke="#2a2a2a" stroke-width="0.9" fill="none" stroke-linejoin="round"/>
<text x="507.0" y="207.9" font-size="10.0" text-anchor="middle" font-family="Liberation Serif, serif" fill="#222">15</text>
<polyline points="526.8,149.0 545.0,172.0" stroke="#2a2a2a" stroke-width="0.9" fill="none" stroke-linejoin="round"/>
<polyline points="545.0,172.0 558.4,159.6" stroke="#2a2a2a" stroke-width="0.9" fill="none" stroke-linejoin="round"/>
<polyline points="531.0,194.5 540.0,187.0" stroke="#2a2a2a" stroke-width="0.9" fill="none" stroke-linejoin="round"/>
<polyline points="549.0,186.0 557.4,203.3" stroke="#2a2a2a" stroke-width="0.9" fill="none" stroke-linejoin="round"/>
<circle cx="544.4" cy="179.1" r="8.4" stroke="#2a2a2a" stroke-width="0.9" fill="#fff" stroke-linejoin="round"/>
<rect x="538" y="176" width="12" height="5" rx="2" fill="#fff" stroke="#222" stroke-width="1.2"/>
<polyline points="522.0,238.0 561.3,251.6" stroke="#2a2a2a" stroke-width="0.9" fill="none" stroke-linejoin="round"/>
<polygon points="494.3,245.3 522.0,239.0 565.4,234.8 608.3,248.4 608.3,251.0 494.3,268.0" stroke="#2a2a2a" stroke-width="0.9" fill="#fff" stroke-linejoin="round"/>
<polyline points="494.3,265.1 608.3,248.4" stroke="#2a2a2a" stroke-width="0.9" fill="none" stroke-linejoin="round"/>
<text x="543.0" y="257.0" font-size="10.0" text-anchor="middle" font-family="Liberation Serif, serif" fill="#222">6</text>
<polyline points="522.1,228.0 522.1,238.5 561.3,251.6" stroke="#2a2a2a" stroke-width="0.9" fill="none" stroke-linejoin="round"/>
<rect x="561.3" y="230.0" width="3.1" height="21.6" fill="#b8b8b8" stroke="#2a2a2a" stroke-width="0.8"/>
<polygon points="503.8,268.3 612.5,252.6 612.5,262.0 503.8,277.7" stroke="#2a2a2a" stroke-width="0.9" fill="#fff" stroke-linejoin="round"/>
<text x="569.0" y="265.0" font-size="10.0" text-anchor="middle" font-family="Liberation Serif, serif" fill="#222">8</text>
<polyline points="503.8,268.3 612.5,252.6" stroke="#1a1a1a" stroke-width="1.5" fill="none"/>
<polyline points="494.4,281.9 578.0,268.3" stroke="#2a2a2a" stroke-width="0.9" fill="none" stroke-linejoin="round"/>
<polygon points="503.8,295.4 612.5,279.8 612.5,289.2 503.8,304.8" stroke="#2a2a2a" stroke-width="0.9" fill="#fff" stroke-linejoin="round"/>
<text x="568.0" y="292.0" font-size="10.0" text-anchor="middle" font-family="Liberation Serif, serif" fill="#222">8</text>
<polyline points="503.8,295.4 612.5,279.8" stroke="#1a1a1a" stroke-width="1.5" fill="none"/>
<polygon points="494.3,306.9 578.0,296.5 609.3,311.1 609.3,314.0 494.3,330.0" stroke="#2a2a2a" stroke-width="0.9" fill="#fff" stroke-linejoin="round"/>
<polyline points="494.3,325.7 609.3,311.1" stroke="#2a2a2a" stroke-width="0.9" fill="none" stroke-linejoin="round"/>
<text x="536.5" y="317.0" font-size="10.0" text-anchor="middle" font-family="Liberation Serif, serif" fill="#222">5</text>
<polygon points="503.8,330.0 612.5,315.3 612.5,325.7 503.8,341.4" stroke="#2a2a2a" stroke-width="0.9" fill="#fff" stroke-linejoin="round"/>
<text x="560.0" y="331.0" font-size="10.0" text-anchor="middle" font-family="Liberation Serif, serif" fill="#222">7</text>
<polyline points="503.8,330.0 612.5,315.3" stroke="#1a1a1a" stroke-width="1.5" fill="none"/>
<polyline points="532,242 548.7,343" stroke="#333" stroke-width="0.8" fill="none" stroke-dasharray="3,2"/>
<polyline points="563.4,253.7 548.7,343" stroke="#333" stroke-width="0.8" fill="none" stroke-dasharray="3,2"/>
<polyline points="587.4,265.2 616.6,273.5" stroke="#2a2a2a" stroke-width="0.9" fill="none" stroke-linejoin="round"/>
<polyline points="587.4,267.6 616.6,276.0" stroke="#2a2a2a" stroke-width="0.9" fill="none" stroke-linejoin="round"/>
<rect x="613" y="271" width="4" height="6" fill="#333"/>
<polyline points="587.4,292.4 620.8,304.9" stroke="#2a2a2a" stroke-width="0.9" fill="none" stroke-linejoin="round"/>
<polyline points="587.4,294.8 620.8,307.4" stroke="#2a2a2a" stroke-width="0.9" fill="none" stroke-linejoin="round"/>
<rect x="616" y="302" width="4" height="6" fill="#333"/>
<circle cx="590.5" cy="275.6" r="5.5" stroke="#2a2a2a" stroke-width="0.9" fill="#fff" stroke-linejoin="round"/>
<rect x="586" y="274" width="9" height="3" fill="#333"/>
<polygon points="651.0,70.0 689.0,82.0 689.0,264.8 651.0,251.5" stroke="#2a2a2a" stroke-width="0.9" fill="#fff" stroke-linejoin="round"/>
<rect x="689.0" y="82.5" width="3.5" height="183.0" fill="#b8b8b8" stroke="#2a2a2a" stroke-width="0.8"/>
<text x="672.0" y="155.0" font-size="10.0" text-anchor="middle" font-family="Liberation Serif, serif" fill="#222">13</text>
<path d="M626,230 h5 v3 h-2 v3 h2 v3 h-5 z" fill="#333"/><path d="M650,235 h6 v7 h-3 v3 h-2 v-3 h-1 z" fill="#333"/>
<path d="M626,78 h5 v3 h-2 v3 h2 v3 h-5 z" fill="#333"/><path d="M650,82 h6 v7 h-3 v3 h-2 v-3 h-1 z" fill="#333"/>
<polyline points="630.0,226.4 650.7,233.6" stroke="#2a2a2a" stroke-width="0.9" fill="none" stroke-linejoin="round"/>
<polyline points="633.0,74.0 650.5,80.0" stroke="#2a2a2a" stroke-width="0.9" fill="none" stroke-linejoin="round"/>
<circle cx="641.0" cy="51.5" r="9.1" stroke="#2a2a2a" stroke-width="0.9" fill="#fff" stroke-linejoin="round"/>
<line x1="636" y1="52.5" x2="647" y2="49.5" stroke="#222" stroke-width="4" stroke-linecap="round"/><line x1="637" y1="52" x2="646.5" y2="49.5" stroke="#999" stroke-width="1"/>
<circle cx="640.7" cy="268.6" r="8.6" stroke="#2a2a2a" stroke-width="0.9" fill="#fff" stroke-linejoin="round"/>
<rect x="634" y="266" width="14" height="4.5" rx="2" transform="rotate(-12 641 268)" fill="#fff" stroke="#222" stroke-width="1.2"/>
<polyline points="620.7,254.3 633.0,265.0" stroke="#2a2a2a" stroke-width="0.9" fill="none" stroke-linejoin="round"/>
<polyline points="633.0,273.0 620.7,282.0" stroke="#2a2a2a" stroke-width="0.9" fill="none" stroke-linejoin="round"/>
<circle cx="605.2" cy="17.7" r="15.6" stroke="#2a2a2a" stroke-width="0.9" fill="#fff" stroke-linejoin="round"/>
<rect x="603" y="6" width="4.6" height="24" rx="2" fill="#222"/><rect x="602.2" y="5" width="6.2" height="2.5" fill="#222"/>
<line x1="605.3" y1="9" x2="605.3" y2="28" stroke="#ccc" stroke-width="1" stroke-dasharray="1.2,1.2"/>
<circle cx="486.7" cy="20.2" r="10.0" stroke="#2a2a2a" stroke-width="0.9" fill="#fff" stroke-linejoin="round"/>
<polyline points="480.5,17.5 493.5,22.0" stroke="#222" stroke-width="2.2" fill="none"/>
<polyline points="495.0,25.0 503.0,31.0" stroke="#2a2a2a" stroke-width="0.9" fill="none" stroke-linejoin="round"/>
<polyline points="496.0,24.0 549.0,24.0" stroke="#2a2a2a" stroke-width="0.9" fill="none" stroke-linejoin="round"/>
<polyline points="437.0,291.0 456.4,250.3" stroke="#2a2a2a" stroke-width="0.9" fill="none" stroke-linejoin="round"/>
<polyline points="437.0,291.0 489.0,262.3" stroke="#2a2a2a" stroke-width="0.9" fill="none" stroke-linejoin="round"/>
<polyline points="437.0,291.0 456.4,313.8" stroke="#2a2a2a" stroke-width="0.9" fill="none" stroke-linejoin="round"/>
<polyline points="437.0,291.0 487.2,324.0" stroke="#2a2a2a" stroke-width="0.9" fill="none" stroke-linejoin="round"/>
<polyline points="437.0,291.0 460.0,318.0" stroke="#2a2a2a" stroke-width="0.9" fill="none" stroke-linejoin="round"/>
<circle cx="423.5" cy="293.4" r="14.4" stroke="#2a2a2a" stroke-width="0.9" fill="#fff" stroke-linejoin="round"/>
<line x1="415" y1="294.4" x2="435.5" y2="291.6" stroke="#222" stroke-width="4" stroke-linecap="round"/><line x1="420" y1="293.5" x2="433" y2="291.8" stroke="#ccc" stroke-width="1" stroke-dasharray="1,1"/>
<rect x="416.5" y="292.5" width="2.5" height="3" fill="#fff"/>
<path d="M402,288.5 Q398,295 403,303 Q408,304 410,296 Q408,288 402,288.5 Z" fill="none" stroke="#222" stroke-width="1.1"/><ellipse cx="404.5" cy="296" rx="2.2" ry="4" fill="none" stroke="#222" stroke-width="1"/>
<polyline points="409.0,296.0 415.0,294.5" stroke="#222" stroke-width="1.6" fill="none"/>
<circle cx="451.6" cy="345.3" r="15.0" stroke="#2a2a2a" stroke-width="0.9" fill="#fff" stroke-linejoin="round"/>
<polygon points="437.4,342.3 446.0,340.5 452.0,341.5 456.0,339.5 461.0,341.0 465.0,345.5 460.0,349.0 453.0,351.0 437.5,345.5" stroke="#2a2a2a" stroke-width="0.9" fill="#fff" stroke-linejoin="round"/>
<polyline points="437.5,344.0 453.0,349.5 465.0,345.0" stroke="#2a2a2a" stroke-width="0.9" fill="none" stroke-linejoin="round"/>
<polyline points="446.5,352.5 446.5,368.6" stroke="#333" stroke-width="1.8" fill="none"/>
<polyline points="454.0,325.0 456.3,331.0" stroke="#2a2a2a" stroke-width="0.9" fill="none" stroke-linejoin="round"/>
<circle cx="548.7" cy="357.1" r="14.6" stroke="#2a2a2a" stroke-width="0.9" fill="#fff" stroke-linejoin="round"/>
<polyline points="548.7,347.0 548.7,368.0" stroke="#222" stroke-width="3" fill="none"/>
<polygon points="422.0,399.0 494.0,389.0 494.0,411.0 422.0,420.0" stroke="#2a2a2a" stroke-width="0.9" fill="#fff" stroke-linejoin="round"/>
<text x="444.0" y="408.0" font-size="10.0" text-anchor="middle" font-family="Liberation Serif, serif" fill="#222">12</text>
<polyline points="422.0,399.0 494.0,389.0" stroke="#1a1a1a" stroke-width="1.6" fill="none"/>
<polygon points="499.8,391.0 533.0,402.0 533.0,420.8 499.8,407.8" stroke="#2a2a2a" stroke-width="0.9" fill="#fff" stroke-linejoin="round"/>
<rect x="533.0" y="402.0" width="2.0" height="19.0" fill="#b8b8b8" stroke="#2a2a2a" stroke-width="0.8"/>
<text x="515.0" y="407.0" font-size="10.0" text-anchor="middle" font-family="Liberation Serif, serif" fill="#222">10</text>
<polyline points="499.8,391.0 533.0,402.0" stroke="#1a1a1a" stroke-width="1.6" fill="none"/>
<polygon points="454.6,420.2 525.0,409.9 525.0,425.3 454.6,439.0" stroke="#2a2a2a" stroke-width="0.9" fill="#fff" stroke-linejoin="round"/>
<polygon points="443.6,419.3 454.6,420.2 454.6,439.0 443.6,436.6" stroke="#2a2a2a" stroke-width="0.9" fill="#fff" stroke-linejoin="round"/>
<polygon points="409.6,407.8 443.6,419.3 443.6,436.6 409.6,426.5" stroke="#2a2a2a" stroke-width="0.9" fill="#fff" stroke-linejoin="round"/>
<text x="421.0" y="426.0" font-size="10.0" text-anchor="middle" font-family="Liberation Serif, serif" fill="#222">10</text>
<polyline points="409.6,407.8 443.6,419.3" stroke="#1a1a1a" stroke-width="1.6" fill="none"/>
<polyline points="443.6,425.0 452.0,423.0" stroke="#2a2a2a" stroke-width="0.9" fill="none" stroke-linejoin="round"/>
<polyline points="450.0,425.0 450.0,440.0" stroke="#2a2a2a" stroke-width="0.9" fill="none" stroke-linejoin="round"/>
<text x="449.5" y="431.0" font-size="10.0" text-anchor="middle" font-family="Liberation Serif, serif" fill="#222">16</text>
<text x="470.0" y="431.0" font-size="10.0" text-anchor="middle" font-family="Liberation Serif, serif" fill="#222">11</text>
<polyline points="466.0,410.0 461.0,431.0" stroke="#2a2a2a" stroke-width="0.9" fill="none" stroke-linejoin="round"/>
<polyline points="466.0,410.0 486.0,427.0" stroke="#2a2a2a" stroke-width="0.9" fill="none" stroke-linejoin="round"/>
<polyline points="470,409 503,421" stroke="#333" stroke-width="0.8" fill="none" stroke-dasharray="3,2"/><polyline points="470,408 517,417" stroke="#333" stroke-width="0.8" fill="none" stroke-dasharray="3,2"/>
<circle cx="466.7" cy="406.4" r="5.5" stroke="#2a2a2a" stroke-width="0.9" fill="#fff" stroke-linejoin="round"/>
<line x1="463" y1="405" x2="470" y2="408" stroke="#222" stroke-width="2.5"/>
<polygon points="460.9,433.7 544.4,420.8 544.4,448.0 460.9,461.0" stroke="#2a2a2a" stroke-width="0.9" fill="#fff" stroke-linejoin="round"/>
<text x="508.0" y="448.0" font-size="10.0" text-anchor="middle" font-family="Liberation Serif, serif" fill="#222">14</text>
<polyline points="460.9,433.7 544.4,420.8" stroke="#1a1a1a" stroke-width="1.5" fill="none"/>
<circle cx="387.4" cy="419.3" r="13.0" stroke="#2a2a2a" stroke-width="0.9" fill="#fff" stroke-linejoin="round"/>
<line x1="379" y1="421.5" x2="397.5" y2="417" stroke="#222" stroke-width="3.6" stroke-linecap="round"/><line x1="383" y1="420.5" x2="396" y2="417.4" stroke="#bbb" stroke-width="1" stroke-dasharray="1,1"/><rect x="379.5" y="419.5" width="2.5" height="2.5" fill="#fff"/>
<polyline points="400.4,419.0 409.6,419.0" stroke="#2a2a2a" stroke-width="0.9" fill="none" stroke-linejoin="round"/>
<polygon points="406.0,433.0 440.7,444.7 440.7,447.0 406.0,437.0" stroke="#2a2a2a" stroke-width="0.9" fill="#fff" stroke-linejoin="round"/>
<circle cx="414.8" cy="456.8" r="7.0" stroke="#2a2a2a" stroke-width="0.9" fill="#fff" stroke-linejoin="round"/>
<polyline points="414.8,438.0 414.8,450.0" stroke="#2a2a2a" stroke-width="0.9" fill="none" stroke-linejoin="round"/>
<polyline points="414.8,450.0 440.0,447.0" stroke="#2a2a2a" stroke-width="0.9" fill="none" stroke-linejoin="round"/>
<polyline points="414.8,452.0 414.8,462.0" stroke="#222" stroke-width="2.5" fill="none"/>
<circle cx="452.2" cy="465.4" r="7.5" stroke="#2a2a2a" stroke-width="0.9" fill="#fff" stroke-linejoin="round"/>
<polyline points="443.6,436.6 452.2,458.0" stroke="#2a2a2a" stroke-width="0.9" fill="none" stroke-linejoin="round"/>
<polyline points="452.0,431.0 452.2,458.0" stroke="#2a2a2a" stroke-width="0.9" fill="none" stroke-linejoin="round"/>
<polyline points="452.2,460.0 452.2,471.0" stroke="#222" stroke-width="1.5" fill="none"/>
</svg>
</body></html>
